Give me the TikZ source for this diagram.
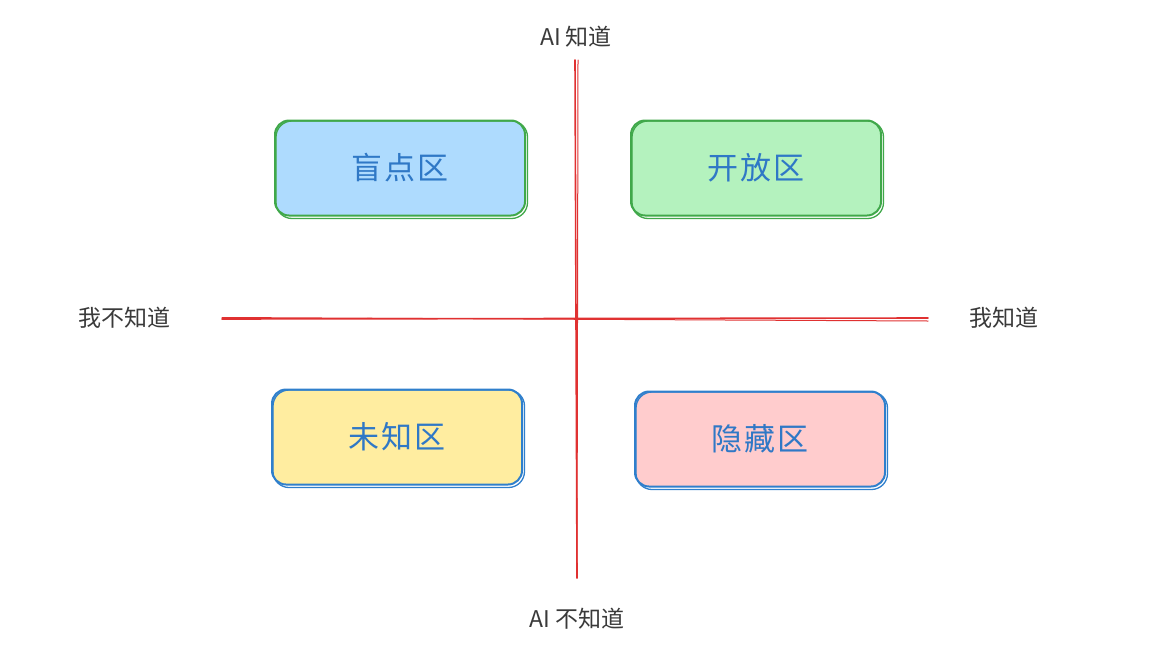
\documentclass[tikz,border=0pt]{standalone}
\usepackage{fontspec}
\newfontfamily\cjk{Noto Sans CJK SC}
\usepackage{tikz}
\definecolor{axisred}{HTML}{E03131}
\definecolor{edgegreen}{HTML}{40A84A}
\definecolor{edgeblue}{HTML}{2F7FCC}
\definecolor{textblue}{HTML}{2F78C6}
\definecolor{inkgray}{HTML}{3A3A3A}
\definecolor{fillblue}{HTML}{AEDBFE}
\definecolor{fillgreen}{HTML}{B4F2BE}
\definecolor{fillyellow}{HTML}{FFEDA0}
\definecolor{fillpink}{HTML}{FFCCCD}
\tikzset{zone/.style={draw, line width=2pt, rounded corners=14pt,
    minimum width=250pt, minimum height=95pt, text=textblue,
    font=\cjk\fontsize{31}{33}\selectfont}}
\tikzset{sketch/.style={line width=1.3pt, rounded corners=16pt}}
\tikzset{axis/.style={axisred, line width=1.6pt, line cap=round}}
\tikzset{axislabel/.style={text=inkgray, font=\cjk\fontsize{23}{25}\selectfont}}
\newcommand{\spaced}[1]{\addfontfeature{LetterSpace=8}#1}

\begin{document}
\begin{tikzpicture}[x=1pt, y=-1pt]
      \useasboundingbox (0, 0) rectangle (1164, 656);

      \coordinate (top) at (575, 60);
      \coordinate (bottom) at (577, 578);
      \coordinate (left) at (222, 319);
      \coordinate (right) at (928, 318);

      \draw[axis] (top) -- (bottom);
      \draw[axis, line width=1pt] ([xshift=3pt]top) -- ([xshift=0pt]bottom);
      \draw[axis] (left) -- (right);
      \draw[axis, line width=1pt] ([yshift=1.5pt]left) -- ([yshift=-3pt]right);

      \node[zone, draw=edgegreen, fill=fillblue] (blind) at (400, 168) {\spaced{盲点区}};
      \node[zone, draw=edgegreen, fill=fillgreen] (open) at (756, 168) {\spaced{开放区}};
      \node[zone, draw=edgeblue, fill=fillyellow] (unknown) at (397, 437) {\spaced{未知区}};
      \node[zone, draw=edgeblue, fill=fillpink] (hidden) at (760, 439) {\spaced{隐藏区}};

      % second, slightly offset stroke for the hand-drawn look
      \foreach \z/\c in {blind/edgegreen, open/edgegreen, unknown/edgeblue, hidden/edgeblue}
        \draw[sketch, \c] ([shift={(2pt,-1.5pt)}]\z.north west) rectangle ([shift={(1.5pt,-2pt)}]\z.south east);

      \node[axislabel] (aiknow) at (576, 37) {\textit{AI} 知道};
      \node[axislabel] (ainot) at (577, 619) {\textit{AI} 不知道};
      \node[axislabel] (inot) at (124, 318) {我不知道};
      \node[axislabel] (iknow) at (1004, 318) {我知道};

    \end{tikzpicture}
\end{document}
